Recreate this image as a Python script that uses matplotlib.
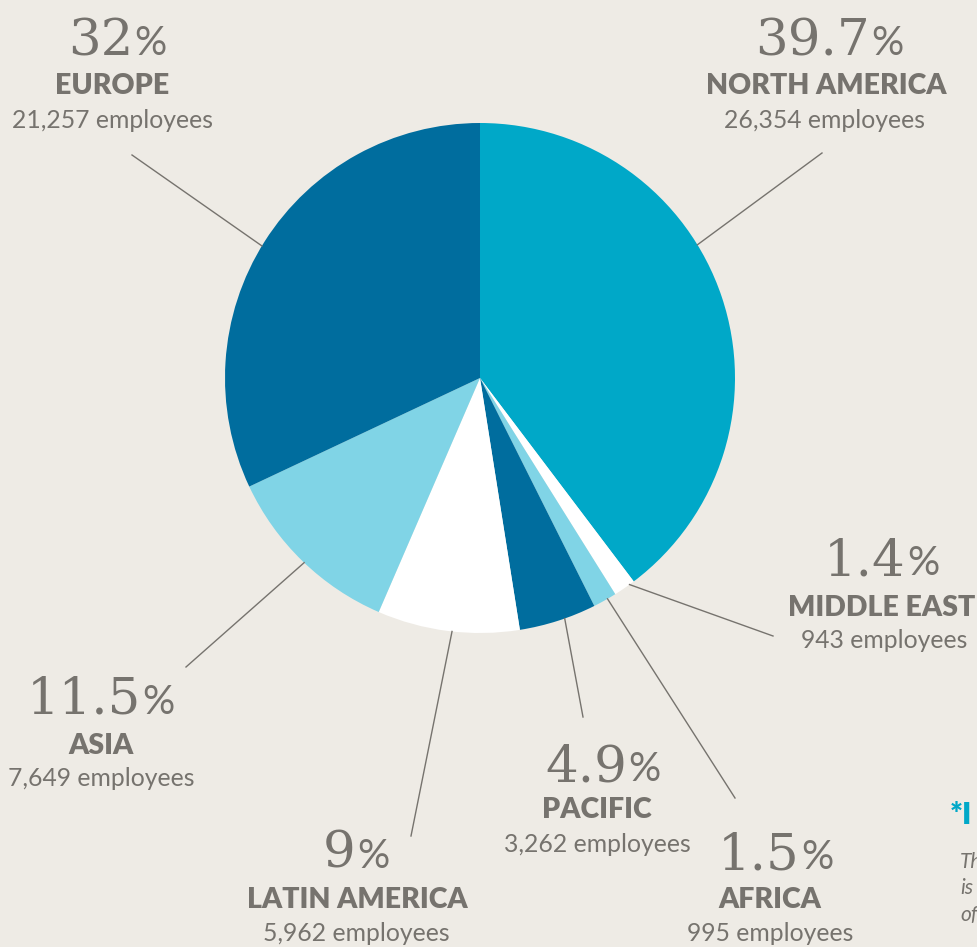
import matplotlib
matplotlib.use("Agg")
import matplotlib.pyplot as plt
import numpy as np

# ---- data ----
regions = ["NORTH AMERICA", "MIDDLE EAST", "AFRICA", "PACIFIC",
           "LATIN AMERICA", "ASIA", "EUROPE"]
shares = [39.7, 1.4, 1.5, 4.9, 9, 11.5, 32]
employees = ["26,354", "943", "995", "3,262", "5,962", "7,649", "21,257"]

# ---- styles / layout ----
W, H = 977, 947
BG = "#EEEBE5"
GREY = "#76736E"
colors = ["#00A8C8", "#FFFFFF", "#80D4E6", "#006D9E",
          "#FFFFFF", "#80D4E6", "#006D9E"]
cx, cy, R = 480, 378, 255

# anchor angle on the pie edge (deg) and label layout, y measured from top
anchor_ang = [31.5, -54.1, -60.0, -70.6, -96.3, -133.6, 148.8]
line_end = [(822, 153), (773, 636), (735, 798), (583, 717),
            (411, 836), (186, 667), (132, 155)]
num_pos = [(870, 55), (906, 575), (800, 869), (627, 781),
           (356, 868), (141, 714), (133, 55)]
lab_pos = [(826, 86), (882, 608), (770, 900), (597, 810),
           (357, 900), (101, 746), (112, 86)]
emp_pos = [(825, 120), (884, 640), (770, 933), (597, 845),
           (356, 933), (101, 779), (112, 120)]

fig = plt.figure(figsize=(W / 100, H / 100), dpi=100, facecolor=BG)
ax = fig.add_axes([0, 0, 1, 1])
ax.set_facecolor(BG)


def Y(y):
    return H - y


ax.pie(shares, colors=colors, startangle=90, counterclock=False,
       center=(cx, Y(cy)), radius=R, frame=True,
       wedgeprops=dict(linewidth=0))
ax.set_xlim(0, W)
ax.set_ylim(0, H)
ax.set_aspect("equal")
ax.axis("off")

for i, name in enumerate(regions):
    a = np.deg2rad(anchor_ang[i])
    x0, y0 = cx + R * np.cos(a), Y(cy) + R * np.sin(a)
    x1, y1 = line_end[i]
    ax.plot([x0, x1], [y0, Y(y1)], color=GREY, lw=1.0, zorder=1)

    nx, ny = num_pos[i]
    num = ("%g" % shares[i])
    ax.text(nx, Y(ny), num, ha="right", va="baseline", color=GREY,
            family="DejaVu Serif", fontsize=37)
    ax.text(nx + 1, Y(ny), "%", ha="left", va="baseline", color=GREY,
            family="Lato", fontsize=29)
    lx, ly = lab_pos[i]
    ax.text(lx, Y(ly), name, ha="center", va="center", color=GREY,
            family="Lato", fontweight="heavy", fontsize=20.5)
    ex, ey = emp_pos[i]
    ax.text(ex, Y(ey), employees[i] + " employees", ha="center",
            va="center", color=GREY, family="Lato", fontsize=17.8)

# footnote cut off at the right edge, as in the source image
ax.text(950, Y(815), "*I", ha="left", va="center", color="#00A8C8",
        family="Lato", fontweight="heavy", fontsize=22)
for txt, yy in [("Th", 862), ("is", 888), ("of", 915)]:
    ax.text(960, Y(yy), txt, ha="left", va="center", color=GREY,
            family="Lato", style="italic", fontsize=15)

fig.savefig("out.png", dpi=100, facecolor=BG)
